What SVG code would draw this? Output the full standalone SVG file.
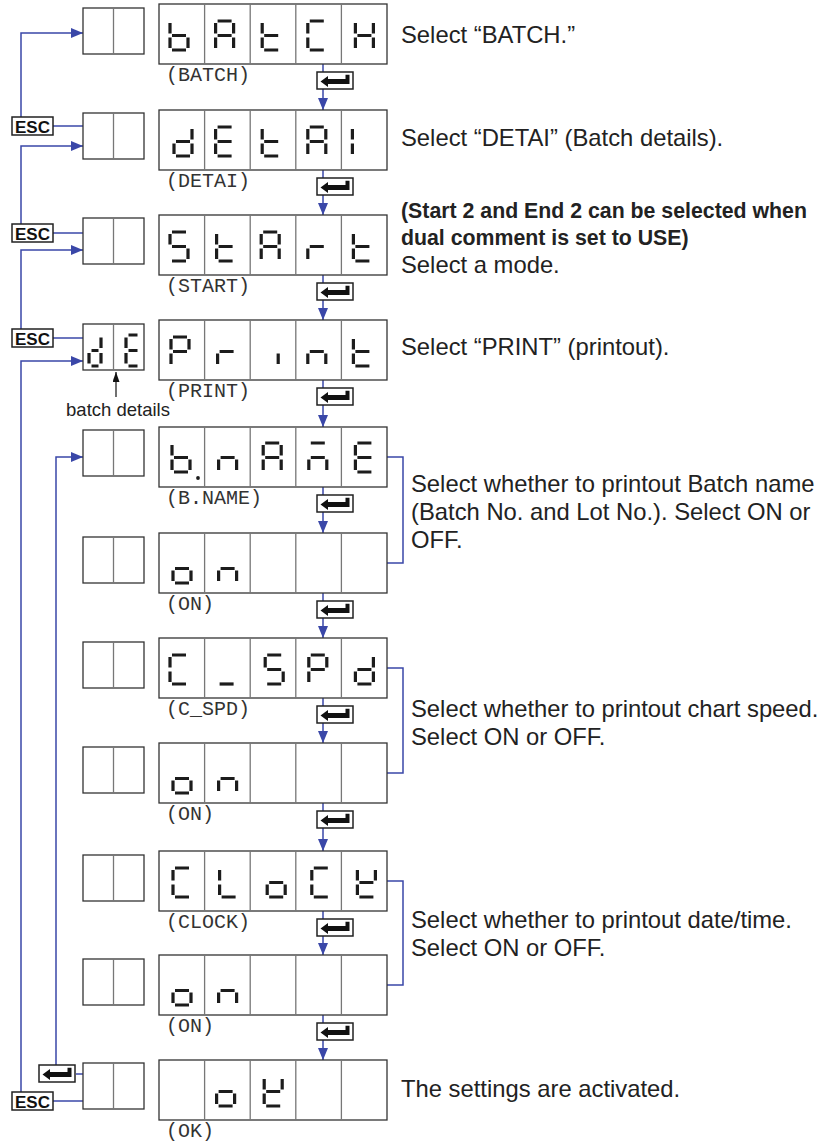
<svg xmlns="http://www.w3.org/2000/svg" xmlns:xlink="http://www.w3.org/1999/xlink" width="828" height="1144" viewBox="0 0 828 1144">
<style>
.seg{fill:none;stroke:#1c1c1c;stroke-width:3.2;stroke-linecap:butt}
.box{fill:#fff;stroke:#333;stroke-width:1.3}
.div{stroke:#777;stroke-width:1.3}
.lbl{font-family:"Liberation Mono",monospace;font-size:20px;fill:#333}
.desc{font-family:"Liberation Sans",Arial,sans-serif;font-size:23.8px;fill:#222}
.bold{font-family:"Liberation Sans",Arial,sans-serif;font-size:21.3px;font-weight:bold;fill:#222}
.small{font-family:"Liberation Sans",Arial,sans-serif;font-size:18.5px;fill:#222}
.esc rect{fill:#fff;stroke:#222;stroke-width:1.5}
.esc text{font-family:"Liberation Sans",Arial,sans-serif;font-size:17px;font-weight:bold;fill:#111}
.conn{fill:none;stroke:#3a47a8;stroke-width:1.5}
.ah{fill:#3a47a8}
</style>
<defs>
<path id="gA" class="seg" d="M2,0H16M18,2V12.5M18,16.5V27M0,16.5V27M0,2V12.5M2,14.5H16"/>
<path id="gb" class="seg" d="M0,2V12.5M0,16.5V27M2,14.5H16M18,16.5V27M2,29H16"/>
<path id="gC" class="seg" d="M2,0H16M0,2V12.5M0,16.5V27M2,29H16"/>
<path id="gd" class="seg" d="M18,2V12.5M18,16.5V27M2,14.5H16M0,16.5V27M2,29H16"/>
<path id="gE" class="seg" d="M2,0H16M0,2V12.5M2,14.5H16M0,16.5V27M2,29H16"/>
<path id="gH" class="seg" d="M0,2V12.5M0,16.5V27M18,2V12.5M18,16.5V27M2,14.5H16"/>
<path id="gI" class="seg" d="M0,2V12.5M0,16.5V27"/>
<path id="gi" class="seg" d="M16,16.5V27"/>
<path id="gk" class="seg" d="M0,2V12.5M0,16.5V27M18,2V12.5M2,14.5H16M2,29H16"/>
<path id="gL" class="seg" d="M0,2V12.5M0,16.5V27M2,29H16"/>
<path id="gM" class="seg" d="M2,0H16M2,14.5H16M0,16.5V27M18,16.5V27"/>
<path id="gn" class="seg" d="M0,16.5V27M2,14.5H16M18,16.5V27"/>
<path id="go" class="seg" d="M2,14.5H16M18,16.5V27M2,29H16M0,16.5V27"/>
<path id="gP" class="seg" d="M2,0H16M18,2V12.5M0,2V12.5M2,14.5H16M0,16.5V27"/>
<path id="gr" class="seg" d="M0,16.5V27M2,14.5H16"/>
<path id="gS" class="seg" d="M2,0H16M0,2V12.5M2,14.5H16M18,16.5V27M2,29H16"/>
<path id="gt" class="seg" d="M0,2V12.5M0,16.5V27M2,14.5H16M2,29H16"/>
<path id="gu" class="seg" d="M2,29H16"/>
<g id="disp">
<rect class="box" x="0" y="0" width="228" height="60"/>
<path class="div" d="M45.6,0V60M91.2,0V60M136.8,0V60M182.4,0V60"/>
</g>
<g id="sbox">
<rect class="box" x="0" y="0" width="61" height="46"/>
<path class="div" d="M30.5,0V46"/>
</g>
<g id="enterKey">
<rect x="0" y="0" width="36" height="17" fill="#fff" stroke="#222" stroke-width="1.5"/>
<path d="M3.5,9.5L11,4L11,7L28.5,7L28.5,2.8L32.5,2.8L32.5,12L11,12L11,15Z" fill="#111"/>
</g>
<marker id="arr" viewBox="0 0 12 10" refX="12" refY="5" markerWidth="12" markerHeight="10" markerUnits="userSpaceOnUse" orient="auto">
<path d="M0,0L12,5L0,10Z" class="ah"/>
</marker>
<marker id="arrk" viewBox="0 0 10 7" refX="10" refY="3.5" markerWidth="10" markerHeight="7" markerUnits="userSpaceOnUse" orient="auto">
<path d="M0,0L10,3.5L0,7Z" fill="#111"/>
</marker>
</defs>
<rect width="828" height="1144" fill="#fff"/>

<g id="connectors">
<path class="conn" d="M21,117V33H83" marker-end="url(#arr)"/>
<path class="conn" d="M53,126H83"/>
<path class="conn" d="M21,224V146H83" marker-end="url(#arr)"/>
<path class="conn" d="M53,233H83"/>
<path class="conn" d="M21,329V250H83" marker-end="url(#arr)"/>
<path class="conn" d="M53,338H83"/>
<path class="conn" d="M21,1092V361H83" marker-end="url(#arr)"/>
<path class="conn" d="M53,1101H83"/>
<path class="conn" d="M56,1065V457H83" marker-end="url(#arr)"/>
<path class="conn" d="M76,1074H83"/>
<path class="conn" d="M323,64V110" marker-end="url(#arr)"/>
<path class="conn" d="M323,170V215" marker-end="url(#arr)"/>
<path class="conn" d="M323,275V320" marker-end="url(#arr)"/>
<path class="conn" d="M323,380V427" marker-end="url(#arr)"/>
<path class="conn" d="M323,487V533" marker-end="url(#arr)"/>
<path class="conn" d="M323,593V638" marker-end="url(#arr)"/>
<path class="conn" d="M323,698V743" marker-end="url(#arr)"/>
<path class="conn" d="M323,803V851" marker-end="url(#arr)"/>
<path class="conn" d="M323,911V955" marker-end="url(#arr)"/>
<path class="conn" d="M323,1015V1060" marker-end="url(#arr)"/>
<path class="conn" d="M387,457H403V563H387"/>
<path class="conn" d="M387,668H403V773H387"/>
<path class="conn" d="M387,881H403V985H387"/>
<path d="M116,397V372" stroke="#111" stroke-width="1.2" fill="none" marker-end="url(#arrk)"/>
<use href="#enterKey" x="317" y="72"/>
<use href="#enterKey" x="317" y="178"/>
<use href="#enterKey" x="317" y="283"/>
<use href="#enterKey" x="317" y="388"/>
<use href="#enterKey" x="317" y="495"/>
<use href="#enterKey" x="317" y="601"/>
<use href="#enterKey" x="317" y="706"/>
<use href="#enterKey" x="317" y="811"/>
<use href="#enterKey" x="317" y="919"/>
<use href="#enterKey" x="317" y="1023"/>
<use href="#enterKey" x="39" y="1065"/>
</g>

<g id="esc-keys">
<g class="esc" id="esc1"><rect x="12" y="117" width="41" height="18"/><text x="32.5" y="132.5" text-anchor="middle">ESC</text></g>
<g class="esc" id="esc2"><rect x="12" y="224" width="41" height="18"/><text x="32.5" y="239.5" text-anchor="middle">ESC</text></g>
<g class="esc" id="esc3"><rect x="12" y="329" width="41" height="18"/><text x="32.5" y="344.5" text-anchor="middle">ESC</text></g>
<g class="esc" id="esc4"><rect x="12" y="1092" width="41" height="18"/><text x="32.5" y="1107.5" text-anchor="middle">ESC</text></g>
</g>

<g id="row-batch">
<use href="#sbox" x="83" y="8"/>
<use href="#disp" x="159" y="4"/>
<use href="#gb" x="170" y="21"/><use href="#gA" x="215.6" y="21"/><use href="#gt" x="262.2" y="21"/><use href="#gC" x="307.8" y="21"/><use href="#gH" x="355.4" y="21"/>
<text class="lbl" x="166" y="81">(BATCH)</text>
<text class="desc" x="401" y="43">Select “BATCH.”</text>
</g>

<g id="row-detai">
<use href="#sbox" x="83" y="113"/>
<use href="#disp" x="159" y="110"/>
<use href="#gd" x="174" y="127"/><use href="#gE" x="215.6" y="127"/><use href="#gt" x="262.2" y="127"/><use href="#gA" x="307.8" y="127"/><use href="#gI" x="352.4" y="127"/>
<text class="lbl" x="166" y="187">(DETAI)</text>
<text class="desc" x="401" y="146">Select “DETAI” (Batch details).</text>
</g>

<g id="row-start">
<use href="#sbox" x="83" y="218"/>
<use href="#disp" x="159" y="215"/>
<use href="#gS" x="170" y="232"/><use href="#gt" x="216.6" y="232"/><use href="#gA" x="261.2" y="232"/><use href="#gr" x="307.8" y="232"/><use href="#gt" x="353.4" y="232"/>
<text class="lbl" x="166" y="292">(START)</text>
<text class="bold" x="401" y="218">(Start 2 and End 2 can be selected when</text>
<text class="bold" x="401" y="245">dual comment is set to USE)</text>
<text class="desc" x="401" y="273">Select a mode.</text>
</g>

<g id="row-print">
<use href="#sbox" x="83" y="324"/>
<path class="seg" d="M101,337.5V348M101,353V363.5M91.5,350.5H98.5M89,353V363.5M91.5,366H98.5"/>
<path class="seg" d="M128.5,335H137.5M126,337.5V348M128.5,350.5H137.5M126,353V363.5M128.5,366H137.5"/>
<use href="#disp" x="159" y="320"/>
<use href="#gP" x="171" y="337"/><use href="#gr" x="217.6" y="337"/><use href="#gi" x="262.2" y="337"/><use href="#gn" x="307.8" y="337"/><use href="#gt" x="353.4" y="337"/>
<text class="lbl" x="166" y="397">(PRINT)</text>
<text class="desc" x="401" y="355">Select “PRINT” (printout).</text>
<text class="small" x="118" y="416" text-anchor="middle">batch details</text>
</g>

<g id="row-bname">
<use href="#sbox" x="83" y="430"/>
<use href="#disp" x="159" y="427"/>
<use href="#gb" x="172" y="443"/><circle cx="198" cy="478" r="1.9" fill="#1c1c1c"/><use href="#gn" x="218.6" y="443"/><use href="#gA" x="263.2" y="443"/><use href="#gM" x="308.8" y="443"/><use href="#gE" x="355.4" y="443"/>
<text class="lbl" x="166" y="504">(B.NAME)</text>
<text class="desc" x="411" y="492">Select whether to printout Batch name</text>
<text class="desc" x="411" y="520">(Batch No. and Lot No.). Select ON or</text>
<text class="desc" x="411" y="548">OFF.</text>
</g>

<g id="row-bname-on">
<use href="#sbox" x="83" y="537"/>
<use href="#disp" x="159" y="533"/>
<use href="#go" x="173" y="554"/><use href="#gn" x="218.6" y="554"/>
<text class="lbl" x="166" y="610">(ON)</text>
</g>

<g id="row-cspd">
<use href="#sbox" x="83" y="642"/>
<use href="#disp" x="159" y="638"/>
<use href="#gC" x="170" y="655"/><use href="#gu" x="217.6" y="655"/><use href="#gS" x="265.2" y="655"/><use href="#gP" x="308.8" y="655"/><use href="#gd" x="355.4" y="655"/>
<text class="lbl" x="166" y="715">(C_SPD)</text>
<text class="desc" x="411" y="717">Select whether to printout chart speed.</text>
<text class="desc" x="411" y="745">Select ON or OFF.</text>
</g>

<g id="row-cspd-on">
<use href="#sbox" x="83" y="747"/>
<use href="#disp" x="159" y="743"/>
<use href="#go" x="173" y="764"/><use href="#gn" x="218.6" y="764"/>
<text class="lbl" x="166" y="820">(ON)</text>
</g>

<g id="row-clock">
<use href="#sbox" x="83" y="855"/>
<use href="#disp" x="159" y="851"/>
<use href="#gC" x="173" y="868"/><use href="#gL" x="219.6" y="868"/><use href="#go" x="267.2" y="868"/><use href="#gC" x="311.8" y="868"/><use href="#gk" x="357.4" y="868"/>
<text class="lbl" x="166" y="928">(CLOCK)</text>
<text class="desc" x="411" y="928">Select whether to printout date/time.</text>
<text class="desc" x="411" y="956">Select ON or OFF.</text>
</g>

<g id="row-clock-on">
<use href="#sbox" x="83" y="959"/>
<use href="#disp" x="159" y="955"/>
<use href="#go" x="173" y="976"/><use href="#gn" x="218.6" y="976"/>
<text class="lbl" x="166" y="1032">(ON)</text>
</g>

<g id="row-ok">
<use href="#sbox" x="83" y="1063"/>
<use href="#disp" x="159" y="1060"/>
<use href="#go" x="216.6" y="1077"/><use href="#gk" x="264.2" y="1077"/>
<text class="lbl" x="166" y="1137">(OK)</text>
<text class="desc" x="401" y="1097">The settings are activated.</text>
</g>
</svg>
